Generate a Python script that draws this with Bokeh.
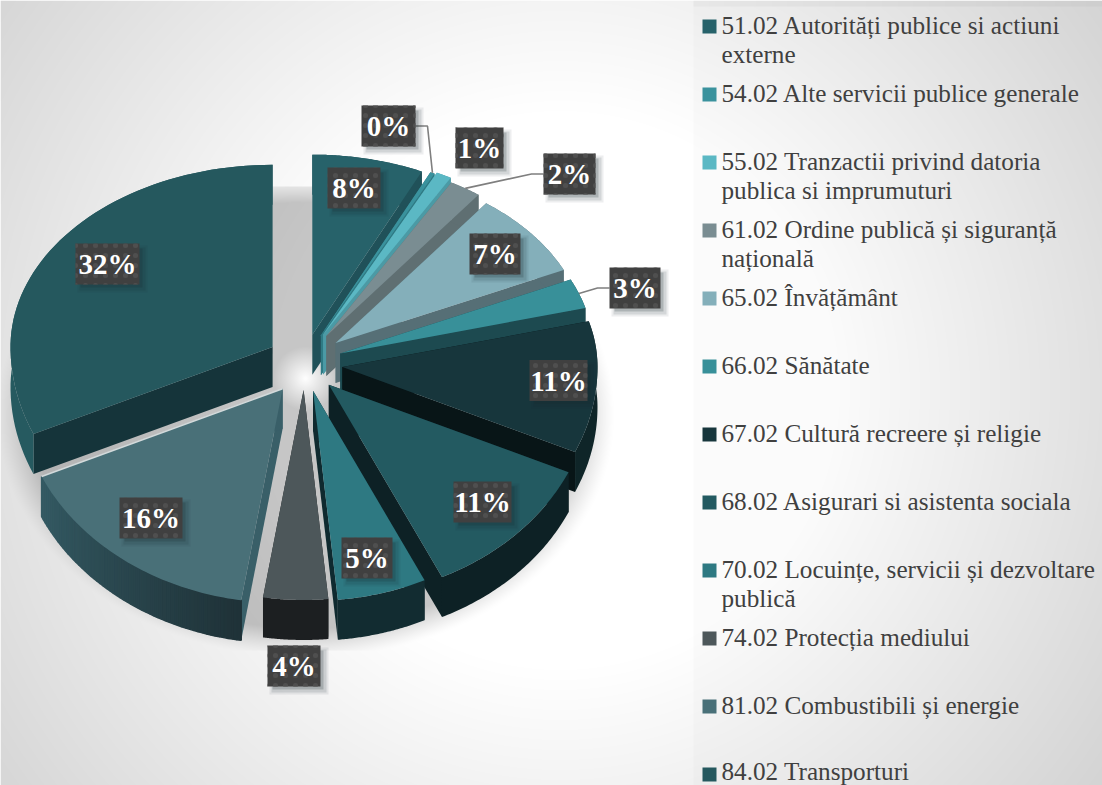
import numpy as np
from bokeh.plotting import figure
from bokeh.models import Range1d
from bokeh.core.properties import value
from bokeh.embed import file_html
from bokeh.resources import INLINE

# ---- data ----
legend_lines = [
    ["51.02 Autorități publice si actiuni", "externe"],
    ["54.02 Alte servicii publice generale"],
    ["55.02 Tranzactii privind datoria", "publica si imprumuturi"],
    ["61.02 Ordine publică și siguranță", "națională"],
    ["65.02 Învățământ"],
    ["66.02 Sănătate"],
    ["67.02 Cultură recreere și religie"],
    ["68.02 Asigurari si asistenta sociala"],
    ["70.02 Locuințe, servicii și dezvoltare", "publică"],
    ["74.02 Protecția mediului"],
    ["81.02 Combustibili și energie"],
    ["84.02 Transporturi"],
]
shares = [6.95, 0.28, 0.97, 2.03, 7.89, 2.72, 10.89, 11.19, 5.56, 4.03, 15.78, 31.72]
percent_labels = ["8%", "0%", "1%", "2%", "7%", "3%", "11%", "11%", "5%", "4%", "16%", "32%"]

# ---- styling and layout ----
top_colors = ["#27626a", "#3a929d", "#5bb8c4", "#7a8d92", "#84afba", "#389099",
              "#17363c", "#235a61", "#2e7982", "#4d575a", "#497078", "#25585e"]
cut_colors = ["#205159", "#2f7a84", "#4b9aa5", "#5f6f72", "#566f76", "#1d4a50",
              "#081517", "#0d2125", "#0f2a2f", "#1c1f21", "#395f68", "#15343a"]
outer_a = ["#205159", "#2f7a84", "#4b9aa5", "#5f6f72", "#566f76", "#1d4a50",
           "#0f2528", "#0d2125", "#122c31", "#1c1f21", "#1f3238", "#265a60"]
outer_b = ["#205159", "#2f7a84", "#4b9aa5", "#5f6f72", "#566f76", "#1d4a50",
           "#0f2528", "#0d2125", "#122c31", "#1c1f21", "#345a63", "#265a60"]
explode = [36, 38, 40, 40, 40, 38, 38, 34, 32, 30, 36, 38]
radius_scale = [1.0, 1.0, 1.0, 0.98, 0.97, 0.98, 0.985, 1.015, 1.0, 1.0, 1.02, 1.012]
legend_y = [26, 94, 162, 230, 298, 366, 434, 502, 570, 638, 706, 774]
legend_text_shift = [-1.5] * 11 + [-3.5]
label_cx = [353.5, 388, 479, 569, 494.5, 634.5, 558, 482, 366.5, 293.5, 150.5, 107]
label_cy = [187.5, 125.5, 147.5, 173.5, 253.5, 287.5, 380, 501.5, 557.5, 665.5, 517.5, 263.5]
label_w = [53, 54, 48, 52, 51, 51, 58, 58, 51, 53, 63, 64]
label_h = 41
leader_index = [1, 3, 5]
CX, CY, RX, RT, RB, DEPTH, KE = 304, 364, 259, 180, 210, 40, 0.85
LEFT, RIGHT, TOP, BOTTOM = 0, 1102, 0, 785


def hex2rgb(h):
    return np.array([int(h[i:i + 2], 16) for i in (1, 3, 5)], float)


def rgb2hex(c):
    return "#%02x%02x%02x" % tuple(int(round(v)) for v in c)


def background():
    W, H = RIGHT - LEFT, BOTTOM - TOP
    xx, yy = np.meshgrid(np.arange(LEFT, RIGHT) + .5, np.arange(TOP, BOTTOM) + .5)
    r = np.sqrt((xx - 560) ** 2 + (yy - 390) ** 2)
    base = 255 - 40 * np.clip((r - 280) / 400, 0, 1)
    rs = np.sqrt(((xx - 305) / 308) ** 2 + ((yy - 415) / 242) ** 2)
    sh = np.clip((1 - rs) / .12, 0, 1) ** 1.2 * .22
    sh[(yy < 186) | (yy > 650)] = 0
    g = base * (1 - sh)
    rc = np.sqrt((xx - 305) ** 2 + (yy - 378) ** 2)
    glow = np.clip(1 - rc / 32, 0, 1)
    g = g + (255 - g) * glow
    g = np.where(xx >= 693, base - 4, g)
    strip = (xx >= 693) & (yy < 6)
    g = np.where(strip, 232 - (xx - 693) / 409 * 26, g)
    v = g.astype(np.uint32)
    return (255 << 24) | (v << 16) | (v << 8) | v


def pt(ax, ay, th, sc):
    s, c = np.sin(th), np.cos(th)
    return ax + sc * RX * s, ay - sc * (RT if c > 0 else RB) * c


p = figure(width=RIGHT - LEFT, height=BOTTOM - TOP, x_range=Range1d(LEFT, RIGHT), y_range=Range1d(BOTTOM, TOP),
           toolbar_location=None, output_backend="svg", min_border=0,
           x_axis_type=None, y_axis_type=None)
p.grid.visible = False
p.outline_line_color = None

p.image_rgba(image=[background()], x=LEFT, y=TOP, dw=RIGHT - LEFT, dh=BOTTOM - TOP)

total = sum(shares)
edges = np.concatenate([[0], np.cumsum(shares)]) / total * 2 * np.pi
mids = (edges[:-1] + edges[1:]) / 2
apex_x = CX + np.array(explode) * np.sin(mids)
apex_y = CY - np.array(explode) * KE * np.cos(mids)
order = np.argsort(-np.cos(mids))

for i in order:
    ax, ay = apex_x[i], apex_y[i]
    th = np.linspace(edges[i], edges[i + 1], 60)
    pts = [pt(ax, ay, t, radius_scale[i]) for t in th]
    xs = [q[0] for q in pts]
    ys = [q[1] for q in pts]
    for k in (0, -1):
        p.patch([ax, xs[k], xs[k], ax], [ay, ys[k], ys[k] + DEPTH, ay + DEPTH],
                fill_color=cut_colors[i], line_color=None)
    if outer_a[i] == outer_b[i]:
        p.patch(xs + xs[::-1], ys + [y + DEPTH for y in ys[::-1]],
                fill_color=outer_a[i], line_color=None)
    else:
        ca, cb = hex2rgb(outer_a[i]), hex2rgb(outer_b[i])
        rim_x, rim_y, rim_c = [], [], []
        for k in range(len(xs) - 1):
            rim_x.append([xs[k], xs[k + 1], xs[k + 1], xs[k]])
            rim_y.append([ys[k], ys[k + 1], ys[k + 1] + DEPTH, ys[k] + DEPTH])
            rim_c.append(rgb2hex(ca + (cb - ca) * k / (len(xs) - 2)))
        p.patches(rim_x, rim_y, fill_color=rim_c, line_color=rim_c, line_width=1.5)
    p.patch([ax] + xs, [ay] + ys, fill_color=top_colors[i], line_color=None)
    if percent_labels[i] == "16%":
        p.line([ax, xs[-1]], [ay, ys[-1]], line_color="#d3dadb", line_width=1.6)

LEAD = "#7f7f7f"
for i in leader_index:
    cx0, cy0 = label_cx[i], label_cy[i]
    if cx0 < 400:
        start = cx0 + label_w[i] / 2
        elbow = start + 12
    else:
        start = cx0 - label_w[i] / 2
        elbow = start - 12
    th = edges[i] + (edges[i + 1] - edges[i]) * .5
    ex, ey = pt(apex_x[i], apex_y[i], th, radius_scale[i])
    p.line([start, elbow, ex], [cy0, cy0, ey], line_color=LEAD, line_width=1.6)

lx = np.array(label_cx)
ly = np.array(label_cy)
lw = np.array(label_w)
for off, alpha, grow in [(5, .08, 3), (5, .12, 1), (4, .2, -1)]:
    p.quad(left=lx - lw / 2 + off - grow, right=lx + lw / 2 + off + grow,
           top=ly - label_h / 2 + off - grow, bottom=ly + label_h / 2 + off + grow,
           fill_color="#1a2a2e", fill_alpha=alpha, line_color=None)
p.quad(left=lx - lw / 2, right=lx + lw / 2, top=ly - label_h / 2, bottom=ly + label_h / 2,
       fill_color="#404040", line_color=None, hatch_pattern="dot", hatch_color="#4f4f4f",
       hatch_scale=10, hatch_weight=1)
p.text(lx, ly, text=percent_labels, text_color="#ffffff", text_font=value("Liberation Serif"),
       text_font_style="bold", text_font_size="29px", text_align="center", text_baseline="middle")

p.quad(left=[702] * 12, right=[716] * 12, top=[y - 7 for y in legend_y], bottom=[y + 7 for y in legend_y],
       fill_color=top_colors, line_color=None)
tx, ty, tt = [], [], []
for y, d, lines in zip(legend_y, legend_text_shift, legend_lines):
    for j, line in enumerate(lines):
        tx.append(721)
        ty.append(y + d + j * 29.5)
        tt.append(line)
p.text(tx, ty, text=tt, text_color="#404040", text_font=value("Liberation Serif"),
       text_font_size="25.2px", text_align="left", text_baseline="middle")

open("out.html", "w").write(file_html(p, INLINE))
